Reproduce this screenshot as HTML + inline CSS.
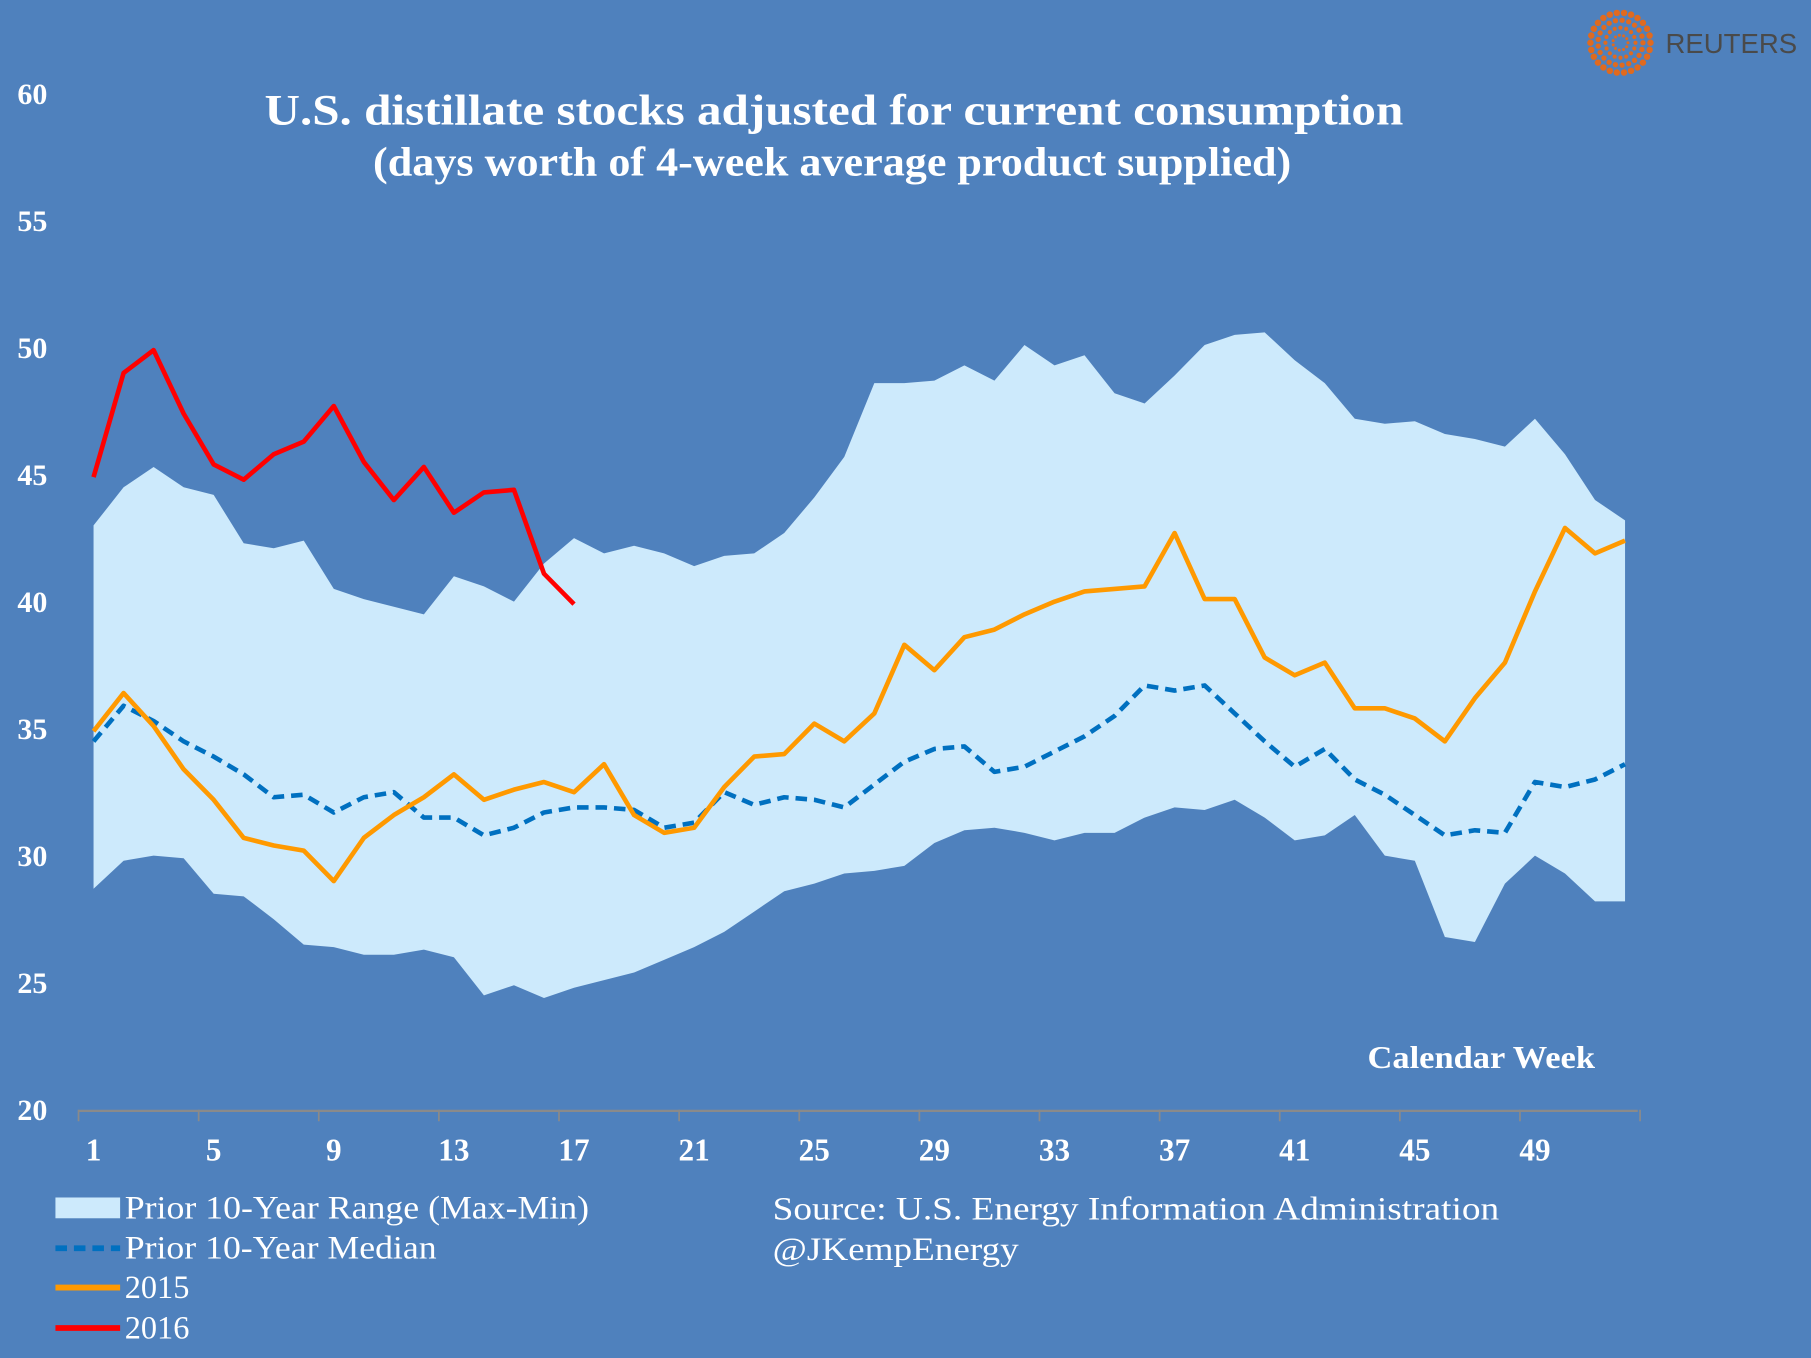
<!DOCTYPE html>
<html><head><meta charset="utf-8"><style>
html,body{margin:0;padding:0;background:#4f81bd;overflow:hidden}
svg{display:block}
text{font-family:"Liberation Serif",serif;fill:#fff}
</style></head><body>
<svg id="chart" width="1811" height="1358" viewBox="0 0 1568 1176" preserveAspectRatio="none" xmlns="http://www.w3.org/2000/svg">
<rect x="0" y="0" width="1568" height="1176" fill="#4f81bd"/>
<g id="logo"></g>
<text x="1442" y="46" style="font-family:'Liberation Sans',sans-serif;fill:#4a4a4a" font-size="24" textLength="114" lengthAdjust="spacingAndGlyphs">REUTERS</text>
<text x="229" y="108" font-size="38" font-weight="bold" textLength="986" lengthAdjust="spacingAndGlyphs">U.S. distillate stocks adjusted for current consumption</text>
<text x="323" y="152" font-size="36" font-weight="bold" textLength="795" lengthAdjust="spacingAndGlyphs">(days worth of  4-week average product supplied)</text>
<g id="plot"></g>
<g id="axes"></g>
<text x="1184" y="925" font-size="27" font-weight="bold" textLength="197" lengthAdjust="spacingAndGlyphs">Calendar Week</text>
<g>
<rect x="48" y="1037" width="56" height="18" fill="#cdeafc"/>
<text x="108" y="1055" font-size="28" textLength="402" lengthAdjust="spacingAndGlyphs">Prior 10-Year Range (Max-Min)</text>
<line x1="48" y1="1081" x2="104" y2="1081" stroke="#0070c0" stroke-width="5" stroke-dasharray="10,6"/>
<text x="108" y="1090" font-size="28" textLength="270" lengthAdjust="spacingAndGlyphs">Prior 10-Year Median</text>
<line x1="48" y1="1115" x2="104" y2="1115" stroke="#ff9900" stroke-width="5"/>
<text x="108" y="1124" font-size="28">2015</text>
<line x1="48" y1="1150" x2="104" y2="1150" stroke="#ff0000" stroke-width="5"/>
<text x="108" y="1159" font-size="28">2016</text>
</g>
<text x="669" y="1056" font-size="28" textLength="629" lengthAdjust="spacingAndGlyphs">Source:  U.S. Energy Information Administration</text>
<text x="669" y="1091" font-size="28" textLength="213" lengthAdjust="spacingAndGlyphs">@JKempEnergy</text>
</svg>
<script>
const weeks=[];for(let i=1;i<=52;i++)weeks.push(i);
const rangeMax=[43.0,44.5,45.3,44.5,44.2,42.3,42.1,42.4,40.5,40.1,39.8,39.5,41.0,40.6,40.0,41.5,42.5,41.9,42.2,41.9,41.4,41.8,41.9,42.7,44.1,45.7,48.6,48.6,48.7,49.3,48.7,50.1,49.3,49.7,48.2,47.8,48.9,50.1,50.5,50.6,49.5,48.6,47.2,47.0,47.1,46.6,46.4,46.1,47.2,45.8,44.0,43.2];
const rangeMin=[28.7,29.8,30.0,29.9,28.5,28.4,27.5,26.5,26.4,26.1,26.1,26.3,26.0,24.5,24.9,24.4,24.8,25.1,25.4,25.9,26.4,27.0,27.8,28.6,28.9,29.3,29.4,29.6,30.5,31.0,31.1,30.9,30.6,30.9,30.9,31.5,31.9,31.8,32.2,31.5,30.6,30.8,31.6,30.0,29.8,26.8,26.6,28.9,30.0,29.3,28.2,28.2];
const median=[34.5,35.9,35.3,34.5,33.9,33.2,32.3,32.4,31.7,32.3,32.5,31.5,31.5,30.8,31.1,31.7,31.9,31.9,31.8,31.1,31.3,32.5,32.0,32.3,32.2,31.9,32.8,33.7,34.2,34.3,33.3,33.5,34.1,34.7,35.5,36.7,36.5,36.7,35.6,34.5,33.5,34.2,33.0,32.4,31.6,30.8,31.0,30.9,32.9,32.7,33.0,33.6];
const y2015=[34.9,36.4,35.1,33.4,32.2,30.7,30.4,30.2,29.0,30.7,31.6,32.3,33.2,32.2,32.6,32.9,32.5,33.6,31.6,30.9,31.1,32.7,33.9,34.0,35.2,34.5,35.6,38.3,37.3,38.6,38.9,39.5,40.0,40.4,40.5,40.6,42.7,40.1,40.1,37.8,37.1,37.6,35.8,35.8,35.4,34.5,36.2,37.6,40.4,42.9,41.9,42.4];
const y2016=[44.9,49.0,49.9,47.4,45.4,44.8,45.8,46.3,47.7,45.5,44.0,45.3,43.5,44.3,44.4,41.1,39.9];
const yTicks=[20,25,30,35,40,45,50,55,60];
const xTickLabels=[1,5,9,13,17,21,25,29,33,37,41,45,49];
const NS='http://www.w3.org/2000/svg';
const X0=68,XW=26,Y0=961,YS=22;
const xs=w=>X0+(w-0.5)*XW;
const ys=v=>Y0-(v-20)*YS;
function mk(tag,attrs,parent){const e=document.createElementNS(NS,tag);for(const k in attrs)e.setAttribute(k,attrs[k]);parent.appendChild(e);return e;}
const plot=document.getElementById('plot');
let d='M'+weeks.map((w,i)=>xs(w)+','+ys(rangeMax[i])).join('L');
for(let i=weeks.length-1;i>=0;i--)d+='L'+xs(weeks[i])+','+ys(rangeMin[i]);
const area=mk('path',{d:d+'Z',fill:'#cdeafc'},plot);


function line(arr,color,dash,name){const p=mk('path',{d:'M'+arr.map((v,i)=>xs(weeks[i])+','+ys(v)).join('L'),fill:'none',stroke:color,'stroke-width':4,'stroke-linejoin':'round'},plot);if(dash)p.setAttribute('stroke-dasharray',dash);

}
line(median,'#0070c0','10,6','median-line');
line(y2015,'#ff9900',null,'line-2015');
line(y2016,'#ff0000',null,'line-2016');
const axes=document.getElementById('axes');
const ax=mk('line',{x1:68,y1:Y0+1,x2:1418,y2:Y0+1,stroke:'#8a8a8a','stroke-width':2},axes);


for(let k=0;k<=13;k++){const t=mk('line',{x1:X0+k*4*XW,y1:Y0,x2:X0+k*4*XW,y2:Y0+10,stroke:'#8a8a8a','stroke-width':1.5},axes);

}
yTicks.forEach(v=>{const t=mk('text',{x:28,y:ys(v)+9,'text-anchor':'middle','font-size':26,'font-weight':'bold'},axes);t.textContent=v;

});
xTickLabels.forEach(w=>{const t=mk('text',{x:xs(w),y:1005,'text-anchor':'middle','font-size':27,'font-weight':'bold'},axes);t.textContent=w;

});
const logo=document.getElementById('logo');
for(let r=1;r<=4;r++){const n=6+r*5;for(let j=0;j<n;j++){const a=j/n*Math.PI*2;const c=mk('circle',{cx:1403+Math.cos(a)*r*6.5,cy:37+Math.sin(a)*r*6.5,r:0.8+r*0.5,fill:'#e06a1f'},logo);

}}
</script>
</body></html>
